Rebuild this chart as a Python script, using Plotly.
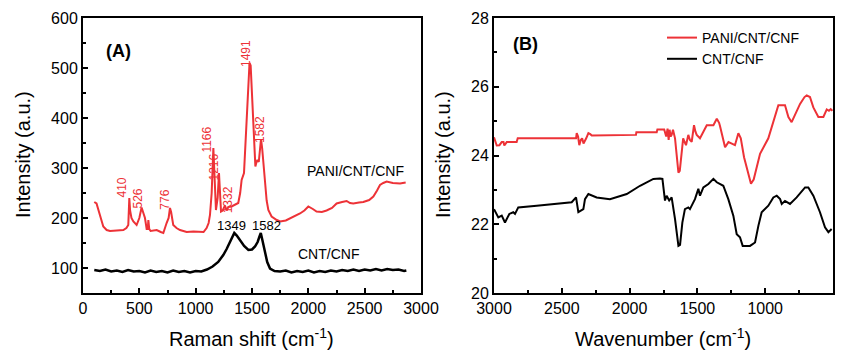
import plotly.graph_objects as go

# ---------------- Panel A: Raman ----------------
raman_red_x = [100, 120, 150, 180, 210, 240, 300, 358, 385, 402, 411, 418, 430, 447, 476, 500, 520, 530, 550, 565,
               575, 580, 588, 600, 654, 690, 713, 742, 760, 772, 782, 801, 830, 861, 920, 980, 1038, 1070, 1097, 1115,
               1127, 1142, 1157, 1165, 1172, 1180, 1195, 1207, 1214, 1225, 1240, 1260, 1275, 1290, 1319, 1350, 1378,
               1395, 1408, 1429, 1445, 1460, 1478, 1488, 1500, 1518, 1530, 1540, 1548, 1560, 1570, 1580, 1590, 1603,
               1615, 1630, 1645, 1674, 1720, 1750, 1800, 1837, 1880, 1926, 1965, 2000, 2040, 2073, 2120, 2162, 2210,
               2251, 2300, 2340, 2370, 2399, 2450, 2488, 2540, 2577, 2610, 2636, 2665, 2695, 2750, 2814, 2864]
raman_red_y = [232, 229, 206, 183, 176, 174, 175, 176, 180, 186, 240, 215, 200, 193, 186, 200, 221, 215, 200, 178,
               178, 196, 178, 174, 176, 172, 170, 190, 200, 220, 212, 186, 180, 176, 172, 173, 172, 172, 180, 190,
               206, 250, 340, 300, 240, 216, 240, 290, 260, 213, 215, 225, 215, 222, 223, 226, 230,
               250, 276, 290, 360, 440, 510, 505, 440, 356, 303, 312, 316, 312, 335, 358, 340, 300,
               263, 235, 216, 203, 196, 193, 195, 199, 203, 209, 215, 223, 218, 213, 212, 215, 220,
               229, 232, 234, 230, 229, 231, 232, 236, 243, 255, 266, 270, 273, 270, 269, 271]

raman_blk_x = [100, 150, 200, 250, 300, 350, 400, 450, 500, 550, 600, 650, 700, 750, 800, 850, 900, 950, 1000, 1050,
               1100, 1150, 1200, 1245, 1275, 1305, 1325, 1343, 1365, 1394, 1430, 1468, 1500, 1527, 1550, 1565, 1578,
               1590, 1605, 1615, 1635, 1660, 1700, 1750, 1800, 1850, 1900, 1950, 2000, 2050, 2100, 2150, 2200, 2250,
               2300, 2350, 2400, 2450, 2500, 2550, 2600, 2650, 2700, 2750, 2800, 2850, 2870]
raman_blk_y = [96, 94, 97, 93, 95, 92, 96, 93, 94, 91, 95, 92, 94, 91, 95, 92, 94, 91, 94, 93,
               97, 103, 112, 126, 138, 153, 163, 170, 165, 156, 144, 136, 137, 143, 152, 162, 170,
               158, 140, 133, 112, 99, 94, 93, 95, 91, 94, 92, 95, 91, 94, 92, 95, 93,
               96, 94, 97, 94, 97, 95, 98, 95, 98, 96, 97, 94, 95]

# ---------------- Panel B: FTIR ----------------
ftir_red_x = [3000, 2980, 2960, 2943, 2930, 2924, 2906, 2833, 2825, 2395, 2390, 2380, 2371, 2360, 2350, 2340, 2320,
              2304, 2290, 2279, 1953, 1950, 1800, 1795, 1745, 1739, 1730, 1720, 1712, 1705, 1697, 1690, 1680, 1665,
              1653, 1640, 1630, 1615, 1605, 1595, 1584, 1567, 1555, 1542, 1525, 1515, 1505, 1481, 1456, 1431, 1382,
              1357, 1340, 1333, 1296, 1271, 1250, 1223, 1198, 1180, 1156, 1124, 1105, 1085, 1075, 1038, 977, 927,
              903, 854, 829, 805, 780, 743, 710, 694, 670, 645, 608, 571, 546, 530, 517, 505]
ftir_red_y = [24.53, 24.29, 24.30, 24.39, 24.39, 24.29, 24.39, 24.39, 24.50, 24.50, 24.65, 24.55, 24.30, 24.45, 24.50,
              24.35, 24.50, 24.65, 24.62, 24.58, 24.60, 24.68, 24.68, 24.76, 24.76, 24.70, 24.55, 24.78, 24.45, 24.75,
              24.55, 24.60, 24.75, 24.50, 23.95, 23.50, 23.55, 24.15, 24.50, 24.40, 24.30, 24.60, 24.45, 24.40, 24.88,
              24.70, 24.60, 24.50, 24.70, 24.88, 24.88, 25.07, 24.95, 24.85, 24.24, 24.39, 24.35, 24.30, 24.65, 24.50,
              23.95, 23.47, 23.18, 23.30, 23.47, 24.05, 24.50, 25.20, 25.46, 25.46, 25.12, 24.97, 25.20, 25.50, 25.70,
              25.75, 25.70, 25.40, 25.12, 25.12, 25.34, 25.30, 25.35, 25.30]

ftir_blk_x = [3000, 2968, 2943, 2919, 2887, 2858, 2845, 2821, 2685, 2538, 2427, 2395, 2378, 2341, 2329, 2304, 2243,
              2145, 2021, 1923, 1825, 1776, 1758, 1739, 1727, 1708, 1690, 1665, 1640, 1628, 1611, 1592, 1567, 1555,
              1518, 1493, 1481, 1456, 1419, 1382, 1357, 1309, 1272, 1235, 1210, 1186, 1166, 1112, 1075, 1050, 1026,
              977, 940, 915, 890, 878, 854, 817, 768, 706, 682, 645, 596, 559, 534, 510]
ftir_blk_y = [22.44, 22.20, 22.25, 22.05, 22.30, 22.35, 22.30, 22.49, 22.54, 22.59, 22.64, 22.78, 22.35, 22.44, 22.73,
              22.88, 22.78, 22.73, 22.88, 23.12, 23.32, 23.33, 23.32, 22.69, 22.83, 22.69, 22.78, 22.15, 21.37, 21.40,
              22.05, 22.44, 22.49, 22.44, 22.73, 23.03, 22.83, 23.07, 23.17, 23.32, 23.22, 23.12, 22.73, 22.25, 21.71,
              21.62, 21.37, 21.37, 21.47, 21.96, 22.35, 22.54, 22.78, 22.83, 22.73, 22.59, 22.68, 22.59, 22.78, 23.07,
              23.07, 22.83, 22.35, 21.91, 21.77, 21.86]

# annotations (peak labels)
red_label_text = ["410", "526", "776", "1166", "1216", "1332", "1491", "1582"]
red_label_x = [342, 484, 725, 1097, 1167, 1290, 1447, 1571]
red_label_y = [260, 238, 236, 356, 302, 236, 528, 376]
blk_label_text = ["1349", "1582"]
blk_label_x = [1318, 1633]
blk_label_y = [184, 184]

RED = "#ED3237"
BLK = "#000000"
FONT = "Liberation Sans, Arial, sans-serif"
W, H = 846, 350

fig = go.Figure()
fig.add_trace(go.Scatter(x=raman_red_x, y=raman_red_y, mode="lines", line=dict(color=RED, width=2),
                         xaxis="x", yaxis="y", showlegend=False))
fig.add_trace(go.Scatter(x=raman_blk_x, y=raman_blk_y, mode="lines", line=dict(color=BLK, width=2.5),
                         xaxis="x", yaxis="y", showlegend=False))
fig.add_trace(go.Scatter(x=ftir_red_x, y=ftir_red_y, mode="lines", line=dict(color=RED, width=2),
                         xaxis="x2", yaxis="y2", name="PANI/CNT/CNF"))
fig.add_trace(go.Scatter(x=ftir_blk_x, y=ftir_blk_y, mode="lines", line=dict(color=BLK, width=2),
                         xaxis="x2", yaxis="y2", name="CNT/CNF"))

ydom = [1 - 293 / H, 1 - 18 / H]
axis_common = dict(showline=True, linewidth=2, linecolor="black", mirror=True, ticks="inside",
                   ticklen=5, tickwidth=1.5, tickcolor="black", showgrid=False, zeroline=False,
                   automargin=False, tickfont=dict(family=FONT, size=16, color="black"))

fig.update_layout(
    width=W, height=H, margin=dict(l=0, r=0, t=0, b=0),
    paper_bgcolor="white", plot_bgcolor="white",
    xaxis=dict(domain=[83 / W, 421 / W], range=[0, 3000], dtick=500, tick0=0, anchor="y",
               minor=dict(ticks="inside", ticklen=3, dtick=250, tickcolor="black"), **axis_common),
    yaxis=dict(domain=ydom, range=[50, 600], dtick=100, tick0=0, anchor="x",
               minor=dict(ticks="inside", ticklen=3, dtick=50, tickcolor="black"), **axis_common),
    xaxis2=dict(domain=[494 / W, 833 / W], range=[3000, 500], dtick=500, tick0=0, anchor="y2",
                minor=dict(ticks="inside", ticklen=3, dtick=250, tickcolor="black"), **axis_common),
    yaxis2=dict(domain=ydom, range=[20, 28], dtick=2, tick0=0, anchor="x2",
                minor=dict(ticks="inside", ticklen=3, dtick=1, tickcolor="black"), **axis_common),
    legend=dict(x=662 / W, y=1 - 22 / H, xanchor="left", yanchor="top", bgcolor="rgba(0,0,0,0)",
                font=dict(family=FONT, size=14, color="black"), itemwidth=30, tracegroupgap=0),
)

anns = []
for t, x, y in zip(red_label_text, red_label_x, red_label_y):
    anns.append(dict(x=x, y=y, xref="x", yref="y", text=t, showarrow=False, textangle=-90,
                     xanchor="center", yanchor="middle", font=dict(family=FONT, size=12, color=RED)))
for t, x, y in zip(blk_label_text, blk_label_x, blk_label_y):
    anns.append(dict(x=x, y=y, xref="x", yref="y", text=t, showarrow=False,
                     xanchor="center", yanchor="middle", font=dict(family=FONT, size=13, color=BLK)))
anns.append(dict(x=2420, y=294, xref="x", yref="y", text="PANI/CNT/CNF", showarrow=False,
                 xanchor="center", yanchor="middle", font=dict(family=FONT, size=14, color=BLK)))
anns.append(dict(x=2175, y=128, xref="x", yref="y", text="CNT/CNF", showarrow=False,
                 xanchor="center", yanchor="middle", font=dict(family=FONT, size=14, color=BLK)))
anns.append(dict(x=118 / W, y=1 - 51 / H, xref="paper", yref="paper", text="<b>(A)</b>", showarrow=False,
                 xanchor="center", yanchor="middle", font=dict(family=FONT, size=18, color=BLK)))
anns.append(dict(x=525 / W, y=1 - 44 / H, xref="paper", yref="paper", text="<b>(B)</b>", showarrow=False,
                 xanchor="center", yanchor="middle", font=dict(family=FONT, size=18, color=BLK)))
# axis titles
anns.append(dict(x=251 / W, y=1 - 337 / H, xref="paper", yref="paper", text="Raman shift (cm<sup>-1</sup>)",
                 showarrow=False, xanchor="center", yanchor="middle", font=dict(family=FONT, size=20, color=BLK)))
anns.append(dict(x=663 / W, y=1 - 337 / H, xref="paper", yref="paper", text="Wavenumber (cm<sup>-1</sup>)",
                 showarrow=False, xanchor="center", yanchor="middle", font=dict(family=FONT, size=20, color=BLK)))
anns.append(dict(x=23 / W, y=1 - 155 / H, xref="paper", yref="paper", text="Intensity (a.u.)", textangle=-90,
                 showarrow=False, xanchor="center", yanchor="middle", font=dict(family=FONT, size=20, color=BLK)))
anns.append(dict(x=443 / W, y=1 - 155 / H, xref="paper", yref="paper", text="Intensity (a.u.)", textangle=-90,
                 showarrow=False, xanchor="center", yanchor="middle", font=dict(family=FONT, size=20, color=BLK)))
fig.update_layout(annotations=anns)

fig.write_html("out.html", config={"displayModeBar": False},
               post_script="document.body.style.margin='0';document.body.style.overflow='hidden';")
